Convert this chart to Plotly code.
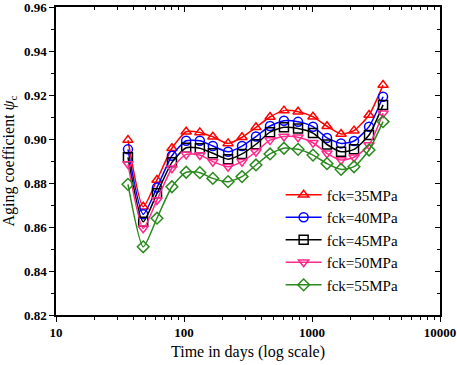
import plotly.graph_objects as go

days = [36.5, 48, 61.5, 80.5, 104, 133, 168, 221, 284, 365, 470, 604, 778, 1018, 1310, 1686, 2130, 2790, 3590]

fck35 = [0.8995, 0.8692, 0.8814, 0.8958, 0.9033, 0.9030, 0.9010, 0.8980, 0.9008, 0.9053, 0.9100, 0.9129, 0.9124, 0.9101, 0.9058, 0.9023, 0.9038, 0.9109, 0.9245]
fck40 = [0.8953, 0.8658, 0.8779, 0.8924, 0.8992, 0.8992, 0.8968, 0.8942, 0.8968, 0.9011, 0.9059, 0.9083, 0.9078, 0.9056, 0.9005, 0.8980, 0.8991, 0.9056, 0.9192]
fck45 = [0.8917, 0.8624, 0.8753, 0.8894, 0.8960, 0.8958, 0.8935, 0.8908, 0.8932, 0.8976, 0.9031, 0.9053, 0.9048, 0.9027, 0.8975, 0.8942, 0.8953, 0.9018, 0.9155]
fck50 = [0.8886, 0.8594, 0.8723, 0.8867, 0.8930, 0.8927, 0.8897, 0.8874, 0.8897, 0.8942, 0.8995, 0.9011, 0.9008, 0.8983, 0.8935, 0.8905, 0.8917, 0.8973, 0.9117]
fck55 = [0.8794, 0.8510, 0.8640, 0.8783, 0.8849, 0.8847, 0.8821, 0.8806, 0.8829, 0.8882, 0.8932, 0.8958, 0.8953, 0.8927, 0.8888, 0.8862, 0.8874, 0.8950, 0.9079]

names = ["fck=35MPa", "fck=40MPa", "fck=45MPa", "fck=50MPa", "fck=55MPa"]
x_tickvals = [10, 100, 1000, 10000]
x_ticktext = ["10", "100", "1000", "10000"]
y_tickvals = [0.82, 0.84, 0.86, 0.88, 0.90, 0.92, 0.94, 0.96]
y_ticktext = ["0.82", "0.84", "0.86", "0.88", "0.90", "0.92", "0.94", "0.96"]

series = [fck35, fck40, fck45, fck50, fck55]
colors = ["#FF0000", "#0000FF", "#000000", "#FF2A8A", "#2A8A1E"]
symbols = ["triangle-up-open", "circle-open", "square-open", "triangle-down-open", "diamond-open"]

fig = go.Figure()
for vals, name, c, s in zip(series, names, colors, symbols):
    fig.add_trace(go.Scatter(
        x=days, y=vals, name=name, mode="lines+markers",
        line=dict(color=c, width=1.5, shape="spline", smoothing=0.6),
        marker=dict(symbol=s, size=9, color=c, line=dict(color=c, width=1.5)),
    ))

# mirror axes (inward ticks on top/right)
fig.add_trace(go.Scatter(x=[days[0]], y=[fck35[0]], xaxis="x2", yaxis="y2",
                         mode="markers", marker=dict(opacity=0), showlegend=False, hoverinfo="skip"))

serif = "Liberation Serif"
fig.update_layout(
    width=457, height=365,
    margin=dict(l=56, r=17, t=7, b=50, autoexpand=False),
    paper_bgcolor="white", plot_bgcolor="white",
    font=dict(family=serif, color="black"),
    showlegend=True,
    legend=dict(x=0.585, y=0.443, xanchor="left", yanchor="top",
                font=dict(family=serif, size=15, color="black"),
                bgcolor="rgba(0,0,0,0)", tracegroupgap=0, itemwidth=36),
    xaxis=dict(type="log", range=[1, 4], showline=True, linecolor="black", linewidth=1.5,
               automargin=False, ticklabeloverflow="allow",
               ticks="outside", ticklen=5, tickwidth=1.2, tickcolor="black",
               tickvals=x_tickvals, ticktext=x_ticktext, showgrid=False, zeroline=False,
               tickfont=dict(family=serif, size=13, color="black", weight="bold"),
               minor=dict(ticks="outside", ticklen=3, tickwidth=1, tickcolor="black", dtick="D1", showgrid=False),
               title=dict(text="Time in days (log scale)", font=dict(family=serif, size=16, color="black"), standoff=6)),
    yaxis=dict(range=[0.82, 0.96], showline=True, linecolor="black", linewidth=1.5,
               automargin=False, ticklabeloverflow="allow",
               ticks="outside", ticklen=5, tickwidth=1.2, tickcolor="black",
               tickvals=y_tickvals, ticktext=y_ticktext, showgrid=False, zeroline=False,
               tickfont=dict(family=serif, size=13, color="black", weight="bold"),
               minor=dict(ticks="outside", ticklen=3, tickwidth=1, tickcolor="black", dtick=0.01, showgrid=False),
               title=dict(text="Aging coefficient <i>ψ</i><sub>c</sub>", font=dict(family=serif, size=16, color="black"), standoff=6)),
    xaxis2=dict(type="log", range=[1, 4], overlaying="x", side="top", anchor="y2",
                automargin=False,
                showline=True, linecolor="black", linewidth=1.5,
                ticks="inside", ticklen=5, tickwidth=1.2, tickcolor="black",
                tickvals=x_tickvals, showticklabels=False, showgrid=False, zeroline=False,
                minor=dict(ticks="inside", ticklen=3, tickwidth=1, tickcolor="black", dtick="D1", showgrid=False)),
    yaxis2=dict(range=[0.82, 0.96], overlaying="y", side="right", anchor="x2",
                automargin=False,
                showline=True, linecolor="black", linewidth=1.5,
                ticks="inside", ticklen=5, tickwidth=1.2, tickcolor="black",
                tickvals=y_tickvals, showticklabels=False, showgrid=False, zeroline=False,
                minor=dict(ticks="inside", ticklen=3, tickwidth=1, tickcolor="black", dtick=0.01, showgrid=False)),
)

fig.write_html("out.html", config={"displayModeBar": False},
               post_script="document.body.style.margin='0';document.body.style.overflow='hidden';")
